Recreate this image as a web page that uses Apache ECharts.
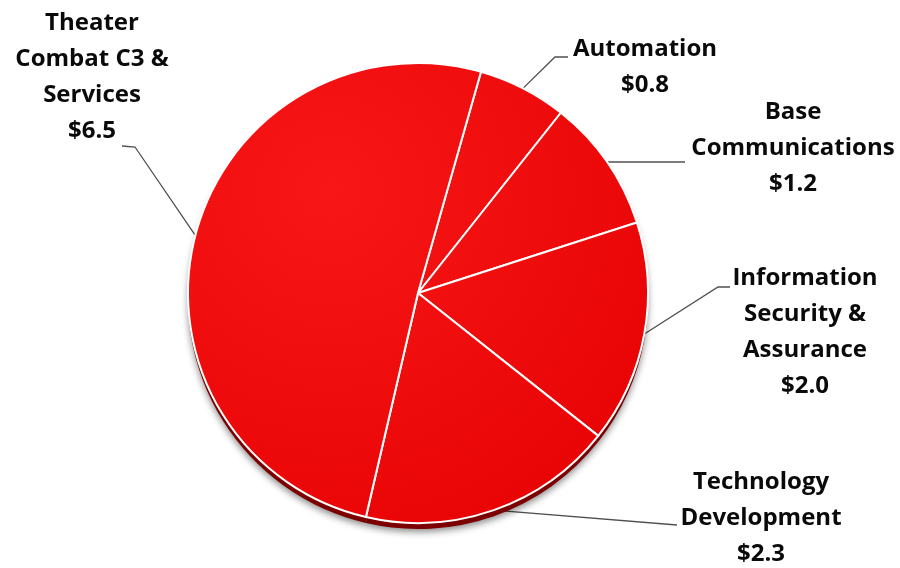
<!DOCTYPE html>
<html>
<head>
<meta charset="utf-8">
<script src="https://cdn.jsdelivr.net/npm/echarts@6/dist/echarts.min.js"></script>
<style>
html,body{margin:0;padding:0;background:#fff;}
#chart{width:900px;height:568px;}
</style>
</head>
<body>
<div id="chart"></div>
<script>
// ---- data ----
const categories = [
  'Automation',
  'Base\nCommunications',
  'Information\nSecurity &\nAssurance',
  'Technology\nDevelopment',
  'Theater\nCombat C3 &\nServices'
];
const values = [0.8, 1.2, 2.0, 2.3, 6.5];

// ---- label placement (label centre + leader elbow points) ----
const labelPlace = [
  { x: 645, y: 67,  line: [[555, 57], [568, 57]] },
  { x: 793, y: 148, line: [[685, 162]] },
  { x: 805, y: 332, line: [[718, 287], [730, 287]] },
  { x: 761, y: 518, line: [[677, 525]] },
  { x: 92,  y: 77,  line: [[135, 147], [122, 146]] }
];

const pieData = categories.map((c, i) => ({ name: c, value: values[i] }));
const chart = echarts.init(document.getElementById('chart'), null, { renderer: 'canvas' });

const CENTER = [418, 293];
const R = 230;

chart.setOption({
  backgroundColor: '#fff',
  animation: false,
  series: [
    {
      type: 'pie',
      silent: true,
      center: [CENTER[0], CENTER[1] + 6],
      radius: R,
      startAngle: 74.1,
      data: pieData,
      label: { show: false },
      labelLine: { show: false },
      itemStyle: {
        color: '#7d0000',
        borderWidth: 0,
        shadowColor: 'rgba(0,0,0,0.45)',
        shadowBlur: 7,
        shadowOffsetY: 3
      }
    },
    {
      type: 'pie',
      center: CENTER,
      radius: R,
      startAngle: 74.1,
      avoidLabelOverlap: false,
      data: pieData,
      itemStyle: {
        color: {
          type: 'radial', x: 330, y: 190, r: 380, global: true,
          colorStops: [
            { offset: 0, color: '#f81616' },
            { offset: 1, color: '#e80404' }
          ]
        },
        borderColor: '#ffffff',
        borderWidth: 2
      },
      label: {
        show: true,
        position: 'outside',
        formatter: p => p.name + '\n$' + p.value.toFixed(1),
        fontFamily: 'Open Sans',
        fontWeight: 'bold',
        fontSize: 24,
        lineHeight: 36,
        color: '#0a0a0a',
        align: 'center'
      },
      labelLine: {
        show: true,
        lineStyle: { color: '#505050', width: 1.3 }
      },
      labelLayout: function (params) {
        const lp = labelPlace[params.dataIndex];
        const start = params.labelLinePoints ? params.labelLinePoints[0] : null;
        const pts = start ? [start].concat(lp.line) : null;
        const out = { x: lp.x, y: lp.y, align: 'center', verticalAlign: 'middle' };
        if (pts) out.labelLinePoints = pts;
        return out;
      },
      emphasis: { disabled: true }
    }
  ]
});
</script>
</body>
</html>
